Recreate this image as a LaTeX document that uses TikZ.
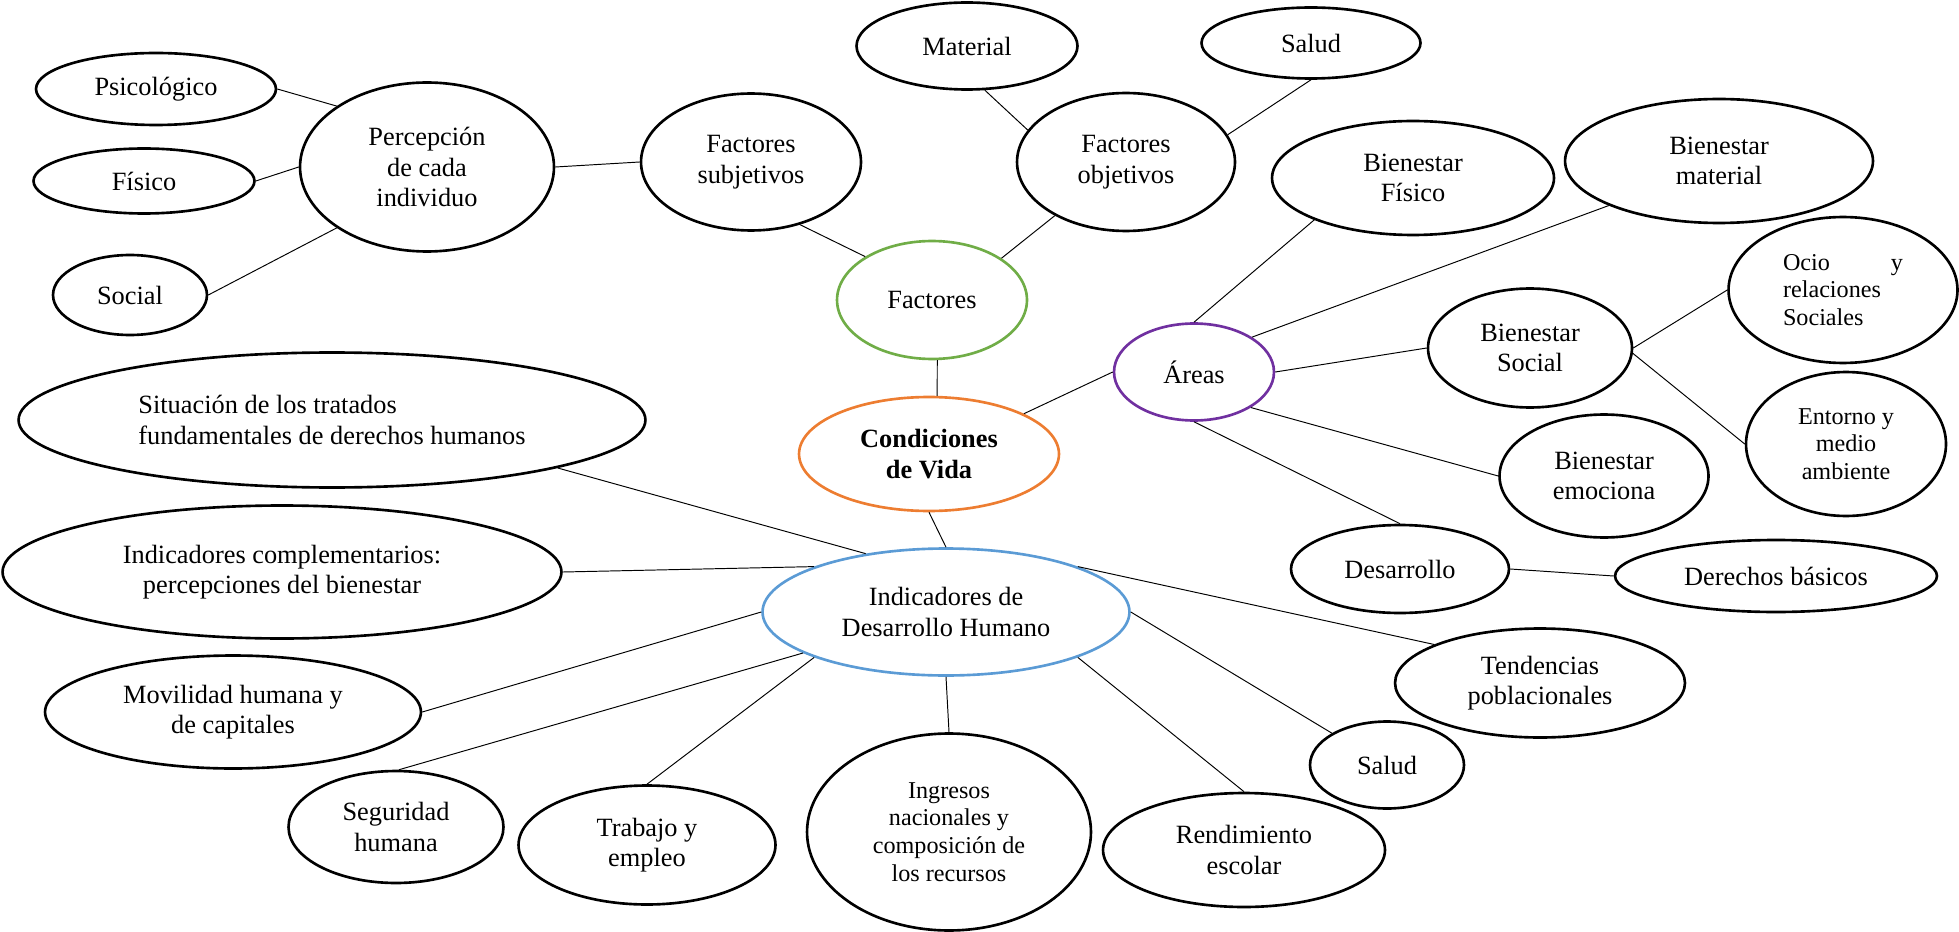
\documentclass[tikz,border=0pt]{standalone}
\usepackage{fontspec}
\setmainfont{Liberation Serif}
\usetikzlibrary{shapes.geometric}

\definecolor{verde}{RGB}{112,173,71}
\definecolor{naranja}{RGB}{237,125,49}
\definecolor{morado}{RGB}{112,48,160}
\definecolor{azul}{RGB}{91,155,213}

\begin{document}
\begin{tikzpicture}[
    x=0.02cm, y=-0.02cm,
    bubble/.style={ellipse, draw, line width=1.5pt, inner sep=0pt, align=center, font=\fontsize{15}{17.3}\selectfont},
    smalltxt/.style={font=\fontsize{13.75}{15.8}\selectfont},
    hub/.style={bubble, line width=1.5pt},
    link/.style={line width=0.55pt}
]
    \useasboundingbox (0,0) rectangle (1959,932);

    % Central nodes
    \node[hub, draw=naranja, minimum width=5.2cm, minimum height=2.28cm, font=\fontsize{15}{17.3}\selectfont\bfseries] (cond) at (929,454) {Condiciones\\de Vida};
    \node[hub, draw=verde, minimum width=3.8cm, minimum height=2.36cm] (fac) at (932,300) {Factores};
    \node[hub, draw=morado, minimum width=3.2cm, minimum height=1.94cm] (areas) at (1194,372) {Áreas};
    \node[hub, draw=azul, minimum width=7.34cm, minimum height=2.54cm] (idh) at (946,612) {Indicadores de\\Desarrollo Humano};

    % Factores branch
    \node[bubble, minimum width=4.4cm, minimum height=2.74cm] (fsub) at (751,162) {Factores\\subjetivos};
    \node[bubble, minimum width=5.08cm, minimum height=3.38cm] (perc) at (427,167) {Percepción\\de cada\\individuo};
    \node[bubble, minimum width=4.8cm, minimum height=1.44cm] (psi) at (156,89) {Psicológico};
    \node[bubble, minimum width=4.42cm, minimum height=1.3cm] (fis) at (144,181) {Físico};
    \node[bubble, minimum width=3.08cm, minimum height=1.6cm] (soc) at (130,295) {Social};
    \node[bubble, minimum width=4.36cm, minimum height=2.76cm] (fobj) at (1126,162) {Factores\\objetivos};
    \node[bubble, minimum width=4.42cm, minimum height=1.74cm] (mat) at (967,46) {Material};
    \node[bubble, minimum width=4.38cm, minimum height=1.42cm] (saltop) at (1311,43) {Salud};

    % Areas branch
    \node[bubble, minimum width=5.64cm, minimum height=2.28cm] (bfis) at (1413,178) {Bienestar\\Físico};
    \node[bubble, minimum width=6.16cm, minimum height=2.48cm] (bmat) at (1719,161) {Bienestar\\material};
    \node[bubble, minimum width=4.08cm, minimum height=2.38cm] (bsoc) at (1530,348) {Bienestar\\Social};
    \node[bubble, smalltxt, align=left, minimum width=4.58cm, minimum height=2.92cm] (ocio) at (1843,290) {\hbox to 2.4cm{Ocio\hfill y}\\relaciones\\Sociales};
    \node[bubble, smalltxt, minimum width=4cm, minimum height=2.88cm] (ento) at (1846,444) {Entorno y\\medio\\ambiente};
    \node[bubble, minimum width=4.18cm, minimum height=2.46cm] (bemo) at (1604,476) {Bienestar\\emociona};
    \node[bubble, minimum width=4.36cm, minimum height=1.76cm] (des) at (1400,569) {Desarrollo};
    \node[bubble, minimum width=6.44cm, minimum height=1.44cm] (der) at (1776,576) {Derechos básicos};

    % Indicadores branch
    \node[bubble, align=left, minimum width=12.54cm, minimum height=2.7cm] (sit) at (332,420) {Situación de los tratados\\fundamentales de derechos humanos};
    \node[bubble, minimum width=11.18cm, minimum height=2.66cm] (icomp) at (282,572) {Indicadores complementarios:\\percepciones del bienestar};
    \node[bubble, minimum width=7.52cm, minimum height=2.26cm] (mov) at (233,712) {Movilidad humana y\\de capitales};
    \node[bubble, minimum width=4.3cm, minimum height=2.24cm] (seg) at (396,827) {Seguridad\\humana};
    \node[bubble, minimum width=5.14cm, minimum height=2.38cm] (trab) at (647,845) {Trabajo y\\empleo};
    \node[bubble, smalltxt, minimum width=5.68cm, minimum height=3.94cm] (ing) at (949,832) {Ingresos\\nacionales y\\composición de\\los recursos};
    \node[bubble, minimum width=5.64cm, minimum height=2.28cm] (rend) at (1244,850) {Rendimiento\\escolar};
    \node[bubble, minimum width=3.08cm, minimum height=1.74cm] (salbot) at (1387,765) {Salud};
    \node[bubble, minimum width=5.8cm, minimum height=2.18cm] (ten) at (1540,683) {Tendencias\\poblacionales};

    % Connectors
    \draw[link] (fac.-85) -- (cond.82);
    \draw[link] (cond.23) -- (areas.180);
    \draw[link] (cond.-90) -- (idh.90);

    \draw[link] (fsub.-52) -- (fac.147);
    \draw[link] (fobj.217) -- (fac.31);
    \draw[link] (perc.0) -- (fsub.180);
    \draw[link] (psi.0) -- (perc.146);
    \draw[link] (fis.0) -- (perc.180);
    \draw[link] (soc.0) -- (perc.214);
    \draw[link] (mat.-68) -- (fobj.162);
    \draw[link] (saltop.-90) -- (fobj.15);

    \draw[link] (areas.90) -- (bfis.203);
    \draw[link] (areas.31) -- (bmat.202);
    \draw[link] (areas.0) -- (bsoc.180);
    \draw[link] (bsoc.0) -- (ocio.180);
    \draw[link] (bsoc.-3) -- (ento.180);
    \draw[link] (areas.-32) -- (bemo.180);
    \draw[link] (areas.-90) -- (des.90);
    \draw[link] (des.0) -- (der.180);

    \draw[link] (idh.144) -- (sit.-12);
    \draw[link] (idh.161) -- (icomp.0);
    \draw[link] (idh.180) -- (mov.0);
    \draw[link] (idh.196) -- (seg.87);
    \draw[link] (idh.199) -- (trab.90);
    \draw[link] (idh.-90) -- (ing.90);
    \draw[link] (idh.-19) -- (rend.90);
    \draw[link] (idh.0) -- (salbot.150);
    \draw[link] (idh.19) -- (ten.160);
\end{tikzpicture}
\end{document}
